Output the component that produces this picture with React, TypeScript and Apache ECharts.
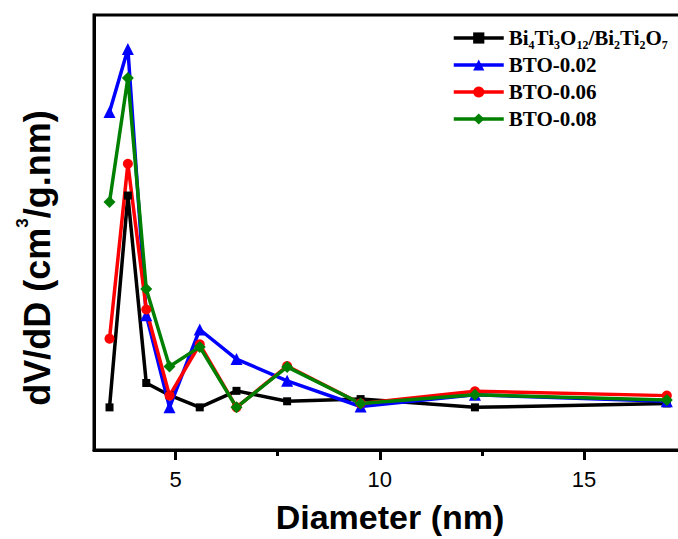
import React, { useEffect, useRef } from "react";
import * as echarts from "echarts";

// Pore diameter (nm)
const diameters = [3.38, 3.83, 4.28, 4.85, 5.59, 6.49, 7.73, 9.53, 12.33, 17.03];
// dV/dD (arbitrary units)
const composite = [9.8, 58.5, 15.4, 12.6, 9.8, 13.6, 11.2, 11.7, 9.8, 10.7];
const bto002 = [77.7, 92.2, 31.0, 9.8, 27.7, 20.9, 15.9, 10.0, 12.7, 11.2];
const bto006 = [25.6, 65.8, 32.3, 12.5, 24.3, 9.8, 19.3, 10.7, 13.5, 12.5];
const bto008 = [57.0, 85.5, 37.0, 19.2, 23.7, 9.8, 19.1, 10.7, 12.7, 11.5];

const seriesNames = ["Bi4Ti3O12/Bi2Ti2O7", "BTO-0.02", "BTO-0.06", "BTO-0.08"];
const majorTicks = [5, 10, 15];
const minorTicks = [7.5, 12.5];

const pairs = (ys: number[]) => diameters.map((x, i) => [x, ys[i]]);

export default function App() {
  const ref = useRef<HTMLDivElement>(null);
  useEffect(() => {
    const chart = echarts.init(ref.current!, null, { renderer: "svg" });
    const mk = (
      name: string,
      data: number[],
      color: string,
      symbol: string,
      size: number
    ) => ({
      name,
      type: "line",
      data: pairs(data),
      symbol,
      symbolSize: size,
      showSymbol: true,
      lineStyle: { color, width: 3.5 },
      itemStyle: { color },
      emphasis: { disabled: true },
    });
    chart.setOption({
      animation: false,
      backgroundColor: "#fff",
      grid: {
        left: 94,
        top: 15,
        right: 14,
        bottom: 86,
        show: true,
        borderColor: "#000",
        borderWidth: 3,
        backgroundColor: "transparent",
      },
      xAxis: [
        {
          type: "value",
          min: 3,
          max: 17.5,
          axisLine: { show: true, lineStyle: { color: "#000", width: 3 } },
          axisTick: {
            show: true,
            inside: false,
            length: 10,
            customValues: majorTicks,
            lineStyle: { color: "#000", width: 3 },
          },
          axisLabel: {
            customValues: majorTicks,
            fontSize: 22,
            fontFamily: "Liberation Sans",
            color: "#000",
            margin: 18,
          },
          splitLine: { show: false },
          name: "Diameter (nm)",
          nameLocation: "middle",
          nameGap: 50,
          nameTextStyle: {
            fontSize: 34,
            fontWeight: "bold",
            fontFamily: "Liberation Sans",
            color: "#000",
          },
        },
        {
          type: "value",
          min: 3,
          max: 17.5,
          position: "bottom",
          axisLine: { show: false },
          axisTick: {
            show: true,
            inside: false,
            length: 6,
            customValues: minorTicks,
            lineStyle: { color: "#000", width: 3 },
          },
          axisLabel: { show: false },
          splitLine: { show: false },
        },
      ],
      yAxis: {
        type: "value",
        min: 0,
        max: 100,
        axisLine: { show: true, lineStyle: { color: "#000", width: 3 } },
        axisTick: { show: false },
        axisLabel: { show: false },
        splitLine: { show: false },
      },
      legend: {
        orient: "vertical",
        left: 452,
        top: 25,
        padding: 0,
        itemGap: 1,
        itemWidth: 50,
        itemHeight: 14,
        data: seriesNames,
        lineStyle: { width: 3.5 },
        textStyle: {
          fontFamily: "Liberation Serif",
          fontWeight: "bold",
          fontSize: 21,
          lineHeight: 26,
          color: "#000",
          rich: {
            m: {
              fontFamily: "Liberation Serif",
              fontWeight: "bold",
              fontSize: 21,
              lineHeight: 26,
              color: "#000",
            },
            s: {
              fontFamily: "Liberation Serif",
              fontWeight: "bold",
              fontSize: 12,
              lineHeight: 26,
              verticalAlign: "bottom",
              color: "#000",
            },
          },
        },
        formatter: (name: string) =>
          name === seriesNames[0]
            ? "{m|Bi}{s|4}{m|Ti}{s|3}{m|O}{s|12}{m|/Bi}{s|2}{m|Ti}{s|2}{m|O}{s|7}"
            : name,
      },
      graphic: [
        {
          type: "text",
          x: 37,
          y: 258,
          rotation: Math.PI / 2,
          style: {
            text: "{a|dV/dD (cm}{s|3}{a|/g.nm)}",
            align: "center",
            verticalAlign: "middle",
            rich: {
              a: {
                fontFamily: "Liberation Sans",
                fontWeight: "bold",
                fontSize: 36,
                lineHeight: 46,
                fill: "#000",
                color: "#000",
              },
              s: {
                fontFamily: "Liberation Sans",
                fontWeight: "bold",
                fontSize: 17,
                lineHeight: 46,
                verticalAlign: "top",
                fill: "#000",
                color: "#000",
              },
            },
          },
        },
      ],
      series: [
        mk(seriesNames[0], composite, "#000000", "rect", 8),
        mk(seriesNames[1], bto002, "#0000FF", "triangle", 12),
        mk(seriesNames[2], bto006, "#FF0000", "circle", 10),
        mk(seriesNames[3], bto008, "#008000", "diamond", 12),
      ],
    });
    return () => chart.dispose();
  }, []);
  return (
    <div
      style={{
        position: "fixed",
        left: 0,
        top: 0,
        width: 678,
        height: 539,
        overflow: "hidden",
        background: "#fff",
      }}
    >
      <div ref={ref} style={{ width: 700, height: 539 }} />
    </div>
  );
}
